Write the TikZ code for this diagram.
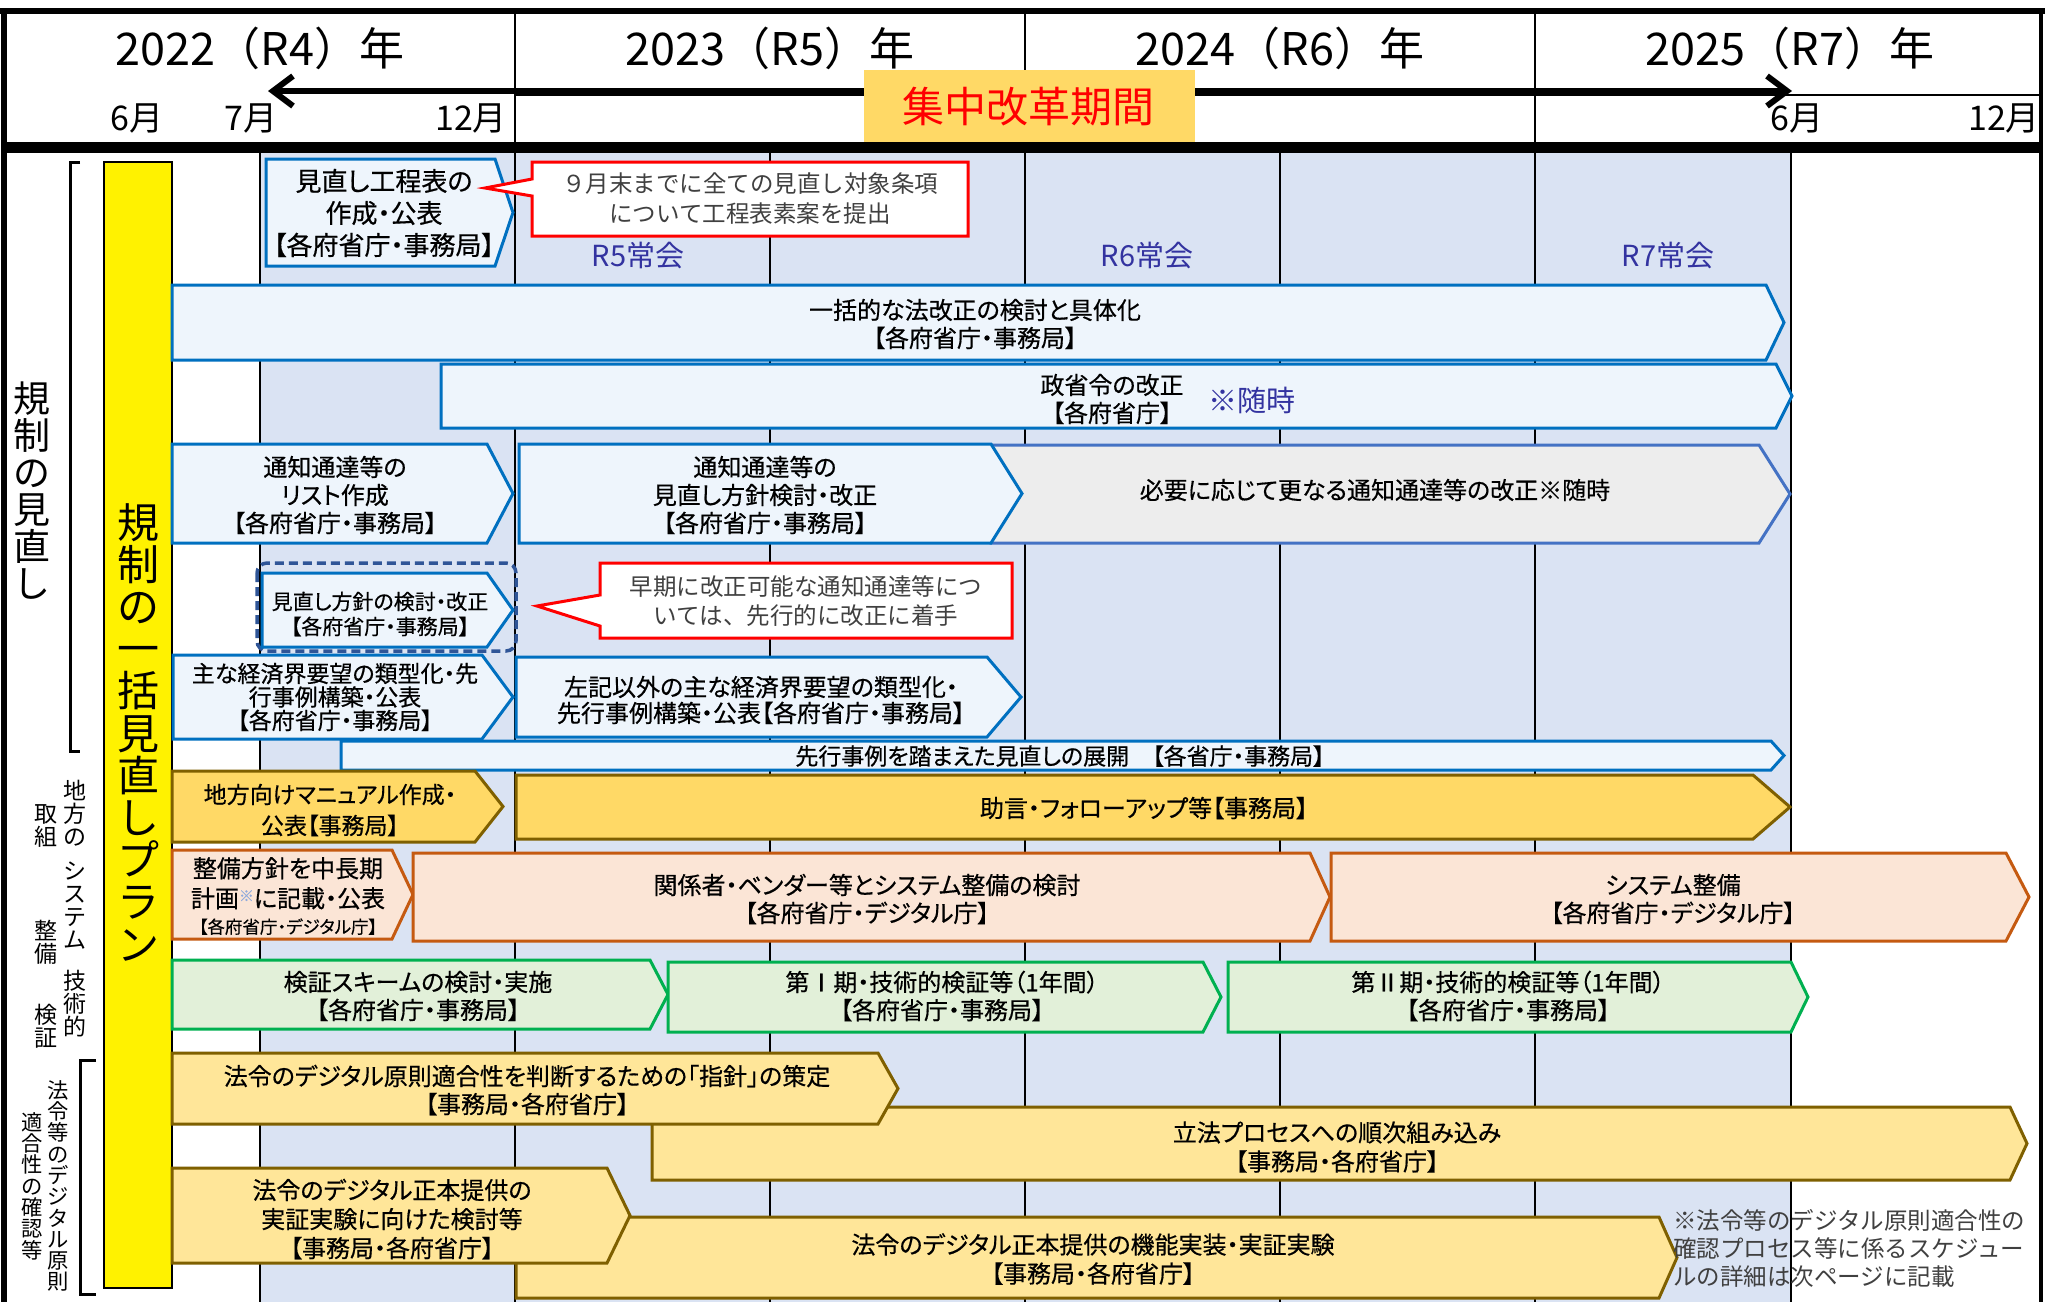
\documentclass[tikz,border=0pt]{standalone}
\usepackage{fontspec}
\setmainfont{Noto Sans CJK JP}[RawFeature=+palt, FakeBold=0.5]
\newfontfamily\fwfont{Noto Sans CJK JP}
\newfontfamily\kaifont{Noto Sans CJK JP}[RawFeature=+palt]
\usetikzlibrary{arrows.meta}
\definecolor{shadeblue}{HTML}{DAE3F3}
\definecolor{bfill}{HTML}{EEF5FC}
\definecolor{bline}{HTML}{0070C0}
\definecolor{gline}{HTML}{4472C4}
\definecolor{gfill}{HTML}{EDEDED}
\definecolor{ofill}{HTML}{FFD966}
\definecolor{oline}{HTML}{7F6000}
\definecolor{sfill}{HTML}{FBE5D6}
\definecolor{sline}{HTML}{C55A11}
\definecolor{grfill}{HTML}{E2F0D9}
\definecolor{grline}{HTML}{00B050}
\definecolor{yfill}{HTML}{FFE699}
\definecolor{navyt}{RGB}{51,51,160}
\definecolor{dashc}{HTML}{2F5597}
\definecolor{txtgray}{HTML}{404040}
\definecolor{astblue}{HTML}{8FAADC}
\newcommand{\pentbar}[7]{%
  \draw[#1] (#2,#3) -- ({#4-#6},#3) -- (#4,{(#3+#5)/2}) -- ({#4-#6},#5) -- (#2,#5) -- cycle;
  \coordinate (#7) at ({(#2+#4)/2},{(#3+#5)/2});}
\tikzset{
  bluebar/.style={fill=bfill, draw=bline, line width=3pt},
  graybar/.style={fill=gfill, draw=gline, line width=3pt},
  orbar/.style={fill=ofill, draw=oline, line width=3pt},
  salbar/.style={fill=sfill, draw=sline, line width=3pt},
  grbar/.style={fill=grfill, draw=grline, line width=3pt},
  yelbar/.style={fill=yfill, draw=oline, line width=3pt},
  callout/.style={fill=white, draw=red, line width=3pt},
  bt/.style={align=center, inner sep=0pt, font=\fontsize{24}{28}\selectfont},
  ct/.style={align=center, inner sep=0pt, text=txtgray, font=\fwfont\fontsize{23.5}{30}\selectfont},
  vt/.style={align=center, inner sep=0pt, font=\fwfont\fontsize{23}{23}\selectfont},
  yr/.style={inner sep=0pt, font=\fwfont\fontsize{45}{50}\selectfont},
  mo/.style={inner sep=0pt, font=\fwfont\fontsize{34}{40}\selectfont},
  kai/.style={inner sep=0pt, text=navyt, font=\kaifont\fontsize{29}{32}\selectfont},
  grid/.style={line width=2pt, black},
}
\begin{document}
\begin{tikzpicture}[x=1pt,y=-1pt]
\useasboundingbox (0,0) rectangle (2045,1302);
\fill[white] (0,0) rectangle (2045,1302);
% shaded period
\fill[shadeblue] (260,153) rectangle (1791,1302);
% grid lines body
\foreach \gx in {260,515,770,1025,1280,1535,1791}
  \draw[grid] (\gx,153) -- (\gx,1302);
% header lines
\draw[line width=1.5pt] (515,95) -- (2042,95);
\foreach \gx in {515,1025,1535}
  \draw[grid] (\gx,11) -- (\gx,142);
\draw[line width=11pt] (2,147.5) -- (2043,147.5);
% frame
\draw[line width=6pt] (0,11) -- (2045,11);
\draw[line width=6pt] (4,8) -- (4,1302);
\draw[line width=4pt] (2041,8) -- (2041,1302);
% header arrow
\coordinate (arrL) at (268,91);
\coordinate (arrR) at (1792,91);
\draw[line width=6pt, {Straight Barb[length=20pt,width=30pt]}-{Straight Barb[length=20pt,width=30pt]}] (arrL) -- (arrR);
\fill[ofill] (864,70) rectangle (1195,142);
\node[inner sep=0pt, text=red, font=\fwfont\fontsize{42}{46}\selectfont] (kikan) at (1028,107) {集中改革期間};
% years
\node[yr] (y22) at (260,48) {2022（R4）年};
\node[yr] (y23) at (770,48) {2023（R5）年};
\node[yr] (y24) at (1280,48) {2024（R6）年};
\node[yr] (y25) at (1790,48) {2025（R7）年};
\node[mo] (m6a) at (137,118) {6月};
\node[mo] (m7a) at (251,118) {7月};
\node[mo] (m12a) at (471,118) {12月};
\node[mo] (m6b) at (1797,118) {6月};
\node[mo] (m12b) at (2004,118) {12月};
% left side
\fill[yellow] (104,162) rectangle (172,1288);
\draw[line width=2pt] (104,162) rectangle (172,1288);
\node[align=center, inner sep=0pt, font=\fwfont\fontsize{42}{42.2}\selectfont] (plan) at (138,732) {規\\制\\の\\一\\括\\見\\直\\し\\プ\\ラ\\ン};
\node[align=center, inner sep=0pt, font=\fwfont\fontsize{37}{37}\selectfont] (kisei) at (32,491) {規\\制\\の\\見\\直\\し};
\draw[line width=3pt] (80,162) -- (70,162) -- (70,751) -- (80,751);
\draw[line width=3pt] (96,1060) -- (80,1060) -- (80,1294) -- (96,1294);
\node[vt] (l1) at (75,813) {地\\方\\の};
\node[vt] (l2) at (46,826) {取\\組};
\node[vt] (l3) at (75,906) {シ\\ス\\テ\\ム};
\node[vt] (l4) at (46,942) {整\\備};
\node[vt] (l5) at (75,1004) {技\\術\\的};
\node[vt] (l6) at (46,1026) {検\\証};
\node[vt, font=\fwfont\fontsize{21.3}{21.3}\selectfont] (l7) at (58,1186) {法\\令\\等\\の\\デ\\ジ\\タ\\ル\\原\\則};
\node[vt, font=\fwfont\fontsize{21.3}{21.3}\selectfont] (l8) at (32,1186) {適\\合\\性\\の\\確\\認\\等};
% row 1
\pentbar{bluebar}{266}{159}{513}{266}{18}{p1}
\node[bt, font=\fontsize{26}{32}\selectfont] (t1) at (384,213) {見直し工程表の\\作成・公表\\【各府省庁・事務局】};
\draw[callout] (532,162) -- (968,162) -- (968,236) -- (532,236) -- (532,196) -- (485,188) -- (532,179) -- cycle;
\node[ct] (c1) at (750,199) {９月末までに全ての見直し対象条項\\について工程表素案を提出};
\node[kai] (k5) at (638,256) {R5常会};
\node[kai] (k6) at (1147,256) {R6常会};
\node[kai] (k7) at (1668,256) {R7常会};
% row 2
\pentbar{bluebar}{172}{285}{1784}{360}{18}{p2}
\node[bt] (t2) at (975,324) {一括的な法改正の検討と具体化\\【各府省庁・事務局】};
\pentbar{bluebar}{441}{364}{1792}{428}{16}{p3}
\node[bt] (t3) at (1112,399) {政省令の改正\\【各府省庁】};
\node[kai, font=\fwfont\fontsize{29}{32}\selectfont] (t3b) at (1252,400) {※随時};
% row 3
\pentbar{graybar}{991}{445}{1790}{543}{31}{p5}
\node[bt] (t5) at (1375,490) {必要に応じて更なる通知通達等の改正※随時};
\pentbar{bluebar}{172}{444}{513}{543}{26}{p4}
\node[bt] (t4) at (335,495) {通知通達等の\\リスト作成\\【各府省庁・事務局】};
\pentbar{bluebar}{519}{444}{1022}{543}{31}{p6}
\node[bt] (t6) at (765,495) {通知通達等の\\見直し方針検討・改正\\【各府省庁・事務局】};
% row 4
\draw[dashc, line width=3.5pt, dash pattern=on 9pt off 5pt, rounded corners=10pt] (257,563) rectangle (516,651);
\pentbar{bluebar}{262}{573}{513}{647}{26}{p7}
\node[bt, font=\fontsize{21}{25}\selectfont] (t7) at (380,614) {見直し方針の検討・改正\\【各府省庁・事務局】};
\draw[callout] (600,563) -- (1012,563) -- (1012,638) -- (600,638) -- (600,626) -- (537,606) -- (600,595) -- cycle;
\node[ct, font=\fwfont\fontsize{23.5}{29}\selectfont] (c2) at (806,601) {早期に改正可能な通知通達等につ\\いては、先行的に改正に着手};
% row 5
\pentbar{bluebar}{173}{655}{513}{739}{31}{p8}
\node[bt, font=\fontsize{23}{23.5}\selectfont] (t8) at (335,697) {主な経済界要望の類型化・先\\行事例構築・公表\\【各府省庁・事務局】};
\pentbar{bluebar}{516}{657}{1021}{737}{34}{p9}
\node[bt, font=\fontsize{24}{26}\selectfont] (t9) at (761,700) {左記以外の主な経済界要望の類型化・\\先行事例構築・公表【各府省庁・事務局】};
\pentbar{bluebar}{341}{741}{1784}{770}{13}{p10}
\node[bt, font=\fontsize{23}{26}\selectfont] (t10) at (1060,756) {先行事例を踏まえた見直しの展開　【各省庁・事務局】};
% local
\pentbar{orbar}{172}{771}{503}{842}{28}{p11}
\node[bt, font=\fontsize{23}{31}\selectfont] (t11) at (330,810) {地方向けマニュアル作成・\\公表【事務局】};
\pentbar{orbar}{516}{775}{1790}{839}{37}{p12}
\node[bt] (t12) at (1144,808) {助言・フォローアップ等【事務局】};
% system
\pentbar{salbar}{172}{850}{413}{939}{21}{p13}
\node[bt, font=\fontsize{24}{30}\selectfont] (t13) at (288,896) {整備方針を中長期\\計画{\color{astblue}\fontsize{15}{15}\selectfont\raisebox{6pt}{※}}に記載・公表\\[-4pt]{\fontsize{17.5}{20}\selectfont【各府省庁・デジタル庁】}};
\pentbar{salbar}{413}{853}{1330}{941}{20}{p14}
\node[bt] (t14) at (867,899) {関係者・ベンダー等とシステム整備の検討\\【各府省庁・デジタル庁】};
\pentbar{salbar}{1331}{853}{2029}{941}{23}{p15}
\node[bt] (t15) at (1673,899) {システム整備\\【各府省庁・デジタル庁】};
% verification
\pentbar{grbar}{172}{960}{668}{1029}{18}{p16}
\node[bt] (t16) at (418,996) {検証スキームの検討・実施\\【各府省庁・事務局】};
\pentbar{grbar}{668}{962}{1221}{1032}{18}{p17}
\node[bt] (t17) at (942,996) {第Ⅰ期・技術的検証等（1年間）\\【各府省庁・事務局】};
\pentbar{grbar}{1228}{962}{1808}{1032}{17}{p18}
\node[bt] (t18) at (1508,996) {第Ⅱ期・技術的検証等（1年間）\\【各府省庁・事務局】};
% legal
\pentbar{yelbar}{652}{1107}{2027}{1180}{17}{p20}
\node[bt, font=\fontsize{24}{29}\selectfont] (t20) at (1337,1147) {立法プロセスへの順次組み込み\\【事務局・各府省庁】};
\pentbar{yelbar}{172}{1053}{898}{1124}{20}{p19}
\node[bt] (t19) at (527,1090) {法令のデジタル原則適合性を判断するための「指針」の策定\\【事務局・各府省庁】};
\pentbar{yelbar}{516}{1217}{1677}{1298}{18}{p22}
\node[bt, font=\fontsize{24}{29}\selectfont] (t22) at (1093,1259) {法令のデジタル正本提供の機能実装・実証実験\\【事務局・各府省庁】};
\pentbar{yelbar}{172}{1168}{630}{1263}{23}{p21}
\node[bt, font=\fontsize{24}{29}\selectfont] (t21) at (392,1219) {法令のデジタル正本提供の\\実証実験に向けた検討等\\【事務局・各府省庁】};
% note
\node[align=left, anchor=west, inner sep=0pt, text=txtgray, font=\fwfont\fontsize{23.5}{28}\selectfont] (note) at (1673,1248) {※法令等のデジタル原則適合性の\\確認プロセス等に係るスケジュー\\ルの詳細は次ページに記載};
\end{tikzpicture}
\end{document}
